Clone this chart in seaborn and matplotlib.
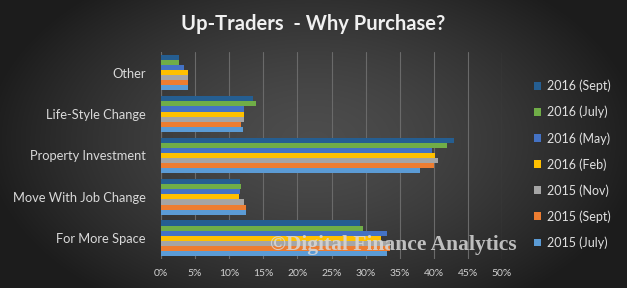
import numpy as np
import pandas as pd
import matplotlib
matplotlib.use("Agg")
import matplotlib.pyplot as plt
import seaborn as sns
from matplotlib.ticker import PercentFormatter

categories = ["Other", "Life-Style Change", "Property Investment",
              "Move With Job Change", "For More Space"]
series = ["2016 (Sept)", "2016 (July)", "2016 (May)", "2016 (Feb)",
          "2015 (Nov)", "2015 (Sept)", "2015 (July)"]
s2016_sept = [2.7, 13.5, 43.0, 11.6, 29.2]
s2016_july = [2.7, 13.9, 42.0, 11.7, 29.6]
s2016_may = [3.3, 12.2, 39.7, 11.6, 33.1]
s2016_feb = [3.9, 12.2, 40.2, 11.4, 32.2]
s2015_nov = [3.9, 12.2, 40.6, 12.2, 33.6]
s2015_sept = [3.9, 11.8, 40.0, 12.4, 33.6]
s2015_july = [4.0, 12.0, 38.0, 12.4, 33.1]
values = [s2016_sept, s2016_july, s2016_may, s2016_feb, s2015_nov, s2015_sept, s2015_july]
colors = ["#255e91", "#70ad47", "#4472c4", "#ffc000", "#a5a5a5", "#ed7d31", "#5b9bd5"]

rows = []
for s, vals in zip(series, values):
    for c, v in zip(categories, vals):
        rows.append({"Reason": c, "Series": s, "Value": v / 100.0})
df = pd.DataFrame(rows)

sns.set_theme(style="dark")
plt.rcParams["font.family"] = ["Lato", "DejaVu Sans"]

fig = plt.figure(figsize=(6.27, 2.88), dpi=100)

# background radial gradient
bg = fig.add_axes([0, 0, 1, 1], zorder=0)
yy, xx = np.mgrid[0:288, 0:627]
r = np.sqrt(((xx - 313) / 330.0) ** 2 + ((yy - 140) / 200.0) ** 2)
r = np.clip(r, 0, 1)
shade = 0.30 - 0.19 * r ** 1.5
img = np.dstack([shade, shade, shade])
bg.imshow(img, aspect="auto", extent=[0, 1, 0, 1])
bg.axis("off")

ax = fig.add_axes([0.2568, 0.1007, 0.5439, 0.719], zorder=1)
ax.set_facecolor("none")
sns.barplot(data=df, y="Reason", x="Value", hue="Series", order=categories,
            hue_order=series, palette=colors, orient="h", width=0.86,
            ax=ax, saturation=1, errorbar=None, edgecolor="none")

ax.set_xlim(0, 0.5)
ax.xaxis.set_major_locator(matplotlib.ticker.MultipleLocator(0.05))
ax.xaxis.set_major_formatter(PercentFormatter(1.0, decimals=0))
ax.grid(axis="x", color="#6a6a6a", linewidth=0.8)
ax.grid(axis="y", visible=False)
ax.set_axisbelow(True)
for sp in ax.spines.values():
    sp.set_visible(False)
ax.axvline(0, color="#8a8a8a", linewidth=0.8, zorder=0.5)
ax.set_xlabel("")
ax.set_ylabel("")
ax.tick_params(axis="x", colors="#d0d0d0", labelsize=7.5, length=0, pad=7)
ax.tick_params(axis="y", colors="#d9d9d9", labelsize=9.3, length=0, pad=11)

leg = ax.legend(loc="upper left", bbox_to_anchor=(1.094, 0.865), frameon=False,
                fontsize=9, labelcolor="#e0e0e0", handlelength=0.55,
                handleheight=0.55, handletextpad=0.5, labelspacing=1.08,
                borderaxespad=0, borderpad=0)

fig.text(0.5, 0.918, "Up-Traders  - Why Purchase?", ha="center", va="center",
         color="#f0f0f0", fontsize=14.5, fontweight="bold")

fig.text(0.627, 0.148, "\u00a9Digital Finance Analytics", ha="center", va="center",
         color="#d8d8d8", alpha=0.85, fontsize=15.5, fontweight="bold",
         family=["Liberation Serif", "DejaVu Serif"], zorder=5)

fig.savefig("out.png", dpi=100)
